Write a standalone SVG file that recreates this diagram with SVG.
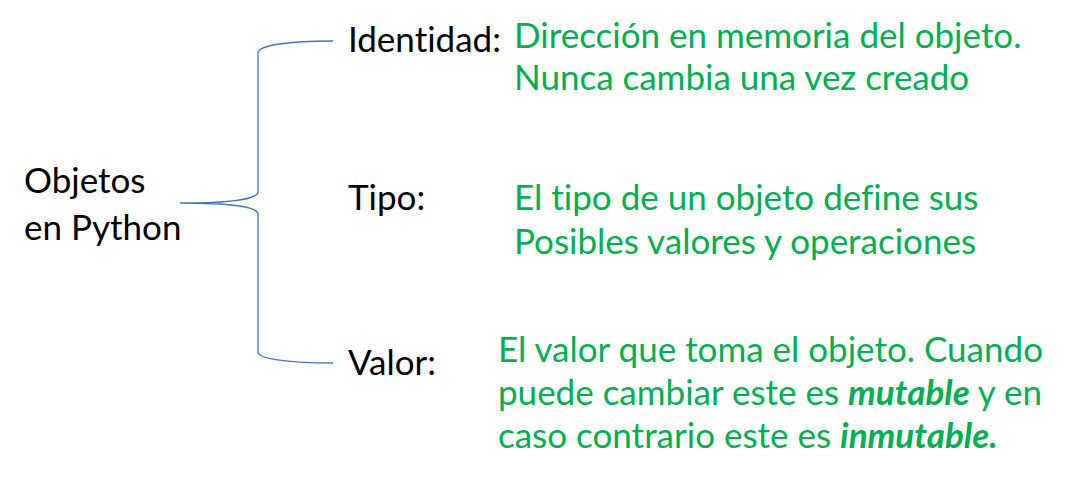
<svg xmlns="http://www.w3.org/2000/svg" width="1074" height="484" viewBox="0 0 1074 484">
<style>
.k{font-family:Lato,"Liberation Sans",sans-serif;font-size:35px;fill:#000;font-variant-ligatures:none}
.g{font-family:Lato,"Liberation Sans",sans-serif;font-size:35px;fill:#00B050;font-variant-ligatures:none}
.bi{font-weight:bold;font-style:italic}
.br{fill:none;stroke:#4472C4;stroke-width:1.3}
</style>
<rect width="1074" height="484" fill="#fff"/>
<g id="connectors">
<path class="br" d="M333,41 C290,41 258,45 258,53 L258,192 C258,199 230,203 180,203 C230,203 258,207 258,214 L258,352 C258,359 290,363 333,363"/>
</g>
<g id="objetos"><text class="k" x="24" y="193">Objetos</text><text class="k" x="24" y="240">en Python</text></g>
<g id="identidad"><text class="k" x="348" y="52">Identidad:</text>
<text class="g" x="514" y="48">Dirección en memoria del objeto.</text>
<text class="g" x="514" y="90">Nunca cambia una vez creado</text></g>
<g id="tipo"><text class="k" x="348" y="210">Tipo:</text>
<text class="g" x="514" y="210">El tipo de un objeto define sus</text>
<text class="g" x="514" y="254">Posibles valores y operaciones</text></g>
<g id="valor"><text class="k" x="348" y="375">Valor:</text>
<text class="g" x="498" y="362">El valor que toma el objeto. Cuando</text>
<text class="g" x="498" y="405">puede cambiar este es <tspan class="bi">mutable</tspan> y en</text>
<text class="g" x="498" y="448">caso contrario este es <tspan class="bi">inmutable.</tspan></text></g>
</svg>
